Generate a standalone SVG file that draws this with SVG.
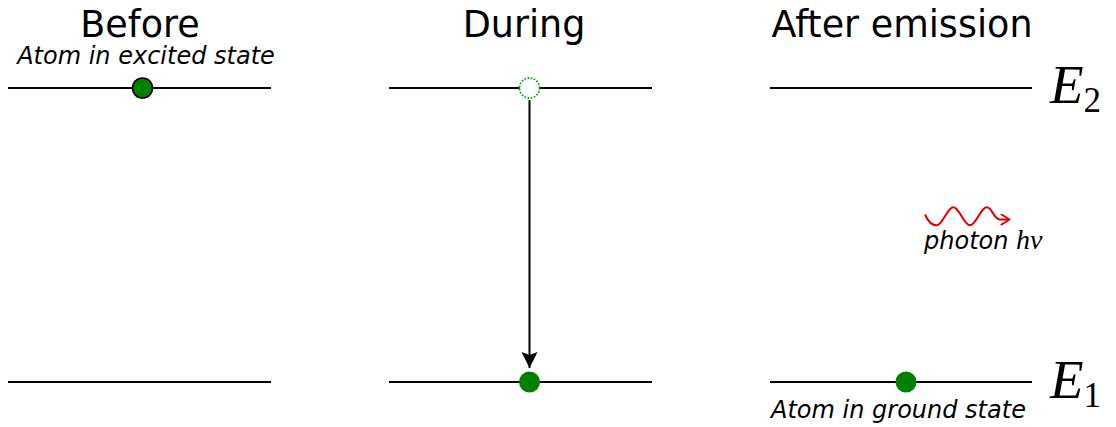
<svg xmlns="http://www.w3.org/2000/svg" width="1116" height="427" viewBox="0 0 1116 427">
  <style>
    .title { font-family: "DejaVu Sans", "Liberation Sans", sans-serif; font-size: 36.5px; fill: #000; text-anchor: middle; }
    .note { font-family: "DejaVu Sans", "Liberation Sans", sans-serif; font-style: italic; font-size: 24px; fill: #000; }
    .math { font-family: "Liberation Serif", "DejaVu Serif", serif; font-style: italic; fill: #000; }
    .sub { font-family: "Liberation Serif", "DejaVu Serif", serif; font-style: normal; }
    .level { stroke: #000; stroke-width: 2; fill: none; }
    .atom { fill: #008000; }
  </style>
  <defs>
    <marker id="head" viewBox="0 0 16 20" markerWidth="16" markerHeight="20" refX="16" refY="10" orient="auto" markerUnits="userSpaceOnUse">
      <path d="M0,2 L16,10 L0,18 L3,10 Z" fill="#000"/>
    </marker>
    <marker id="chevron" viewBox="0 0 12 12" markerWidth="12" markerHeight="12" refX="10" refY="6" orient="auto" markerUnits="userSpaceOnUse">
      <path d="M2,1 L10,6 L2,11" fill="none" stroke="#e00000" stroke-width="2" stroke-linecap="round" stroke-linejoin="round"/>
    </marker>
  </defs>

  <rect width="1116" height="427" fill="#fff"/>

  <!-- column headings -->
  <text class="title" x="140" y="37">Before</text>
  <text class="title" x="524" y="37">During</text>
  <text class="title" x="902" y="37">After emission</text>

  <!-- energy levels -->
  <g id="levels">
    <line class="level" x1="8" y1="88" x2="271" y2="88"/>
    <line class="level" x1="389" y1="88" x2="652" y2="88"/>
    <line class="level" x1="770" y1="88" x2="1032" y2="88"/>
    <line class="level" x1="8" y1="382" x2="271" y2="382"/>
    <line class="level" x1="389" y1="382" x2="652" y2="382"/>
    <line class="level" x1="770" y1="382" x2="1032" y2="382"/>
  </g>

  <!-- level labels -->
  <g id="label-E2">
    <text class="math" x="1050" y="103" font-size="55">E<tspan class="sub" font-size="35" dy="9">2</tspan></text>
  </g>
  <g id="label-E1">
    <text class="math" x="1050" y="398" font-size="55">E<tspan class="sub" font-size="35" dy="9">1</tspan></text>
  </g>

  <!-- before: excited atom -->
  <g id="atom-before">
    <text class="note" x="146" y="64" text-anchor="middle">Atom in excited state</text>
    <circle class="atom" cx="142.5" cy="88" r="10" stroke="#000" stroke-width="1.6"/>
  </g>

  <!-- during: vacated upper state and atom in lower state -->
  <g id="atom-vacated">
    <circle cx="529.5" cy="88" r="10" fill="#fff" stroke="#00a000" stroke-width="1.8" stroke-dasharray="1.6 1.6"/>
  </g>
  <g id="atom-during">
    <circle class="atom" cx="529.5" cy="382" r="10.5"/>
  </g>

  <!-- after: ground-state atom -->
  <g id="atom-after">
    <circle class="atom" cx="906" cy="382" r="10.5"/>
    <text class="note" x="771" y="418">Atom in ground state</text>
  </g>

  <!-- emitted photon -->
  <g id="photon">
    <text class="note" x="924" y="249">photon <tspan class="math" font-size="28">hν</tspan></text>
  </g>

  <g id="connectors">
    <line x1="529.5" y1="100" x2="529.5" y2="368" stroke="#000" stroke-width="2" marker-end="url(#head)"/>
    <path d="M925,214.5 C927.5,220.5 931.5,225.3 936.7,225.3 C942.8,225.3 947.2,207.3 953.3,207.3 C959.4,207.3 963.9,225.3 970,225.3 C976.1,225.3 980.6,207.3 986.7,207.3 C992,207.3 994,219.5 1000,219.5 L1009.5,219.5" fill="none" stroke="#e00000" stroke-width="2" marker-end="url(#chevron)"/>
  </g>
</svg>
